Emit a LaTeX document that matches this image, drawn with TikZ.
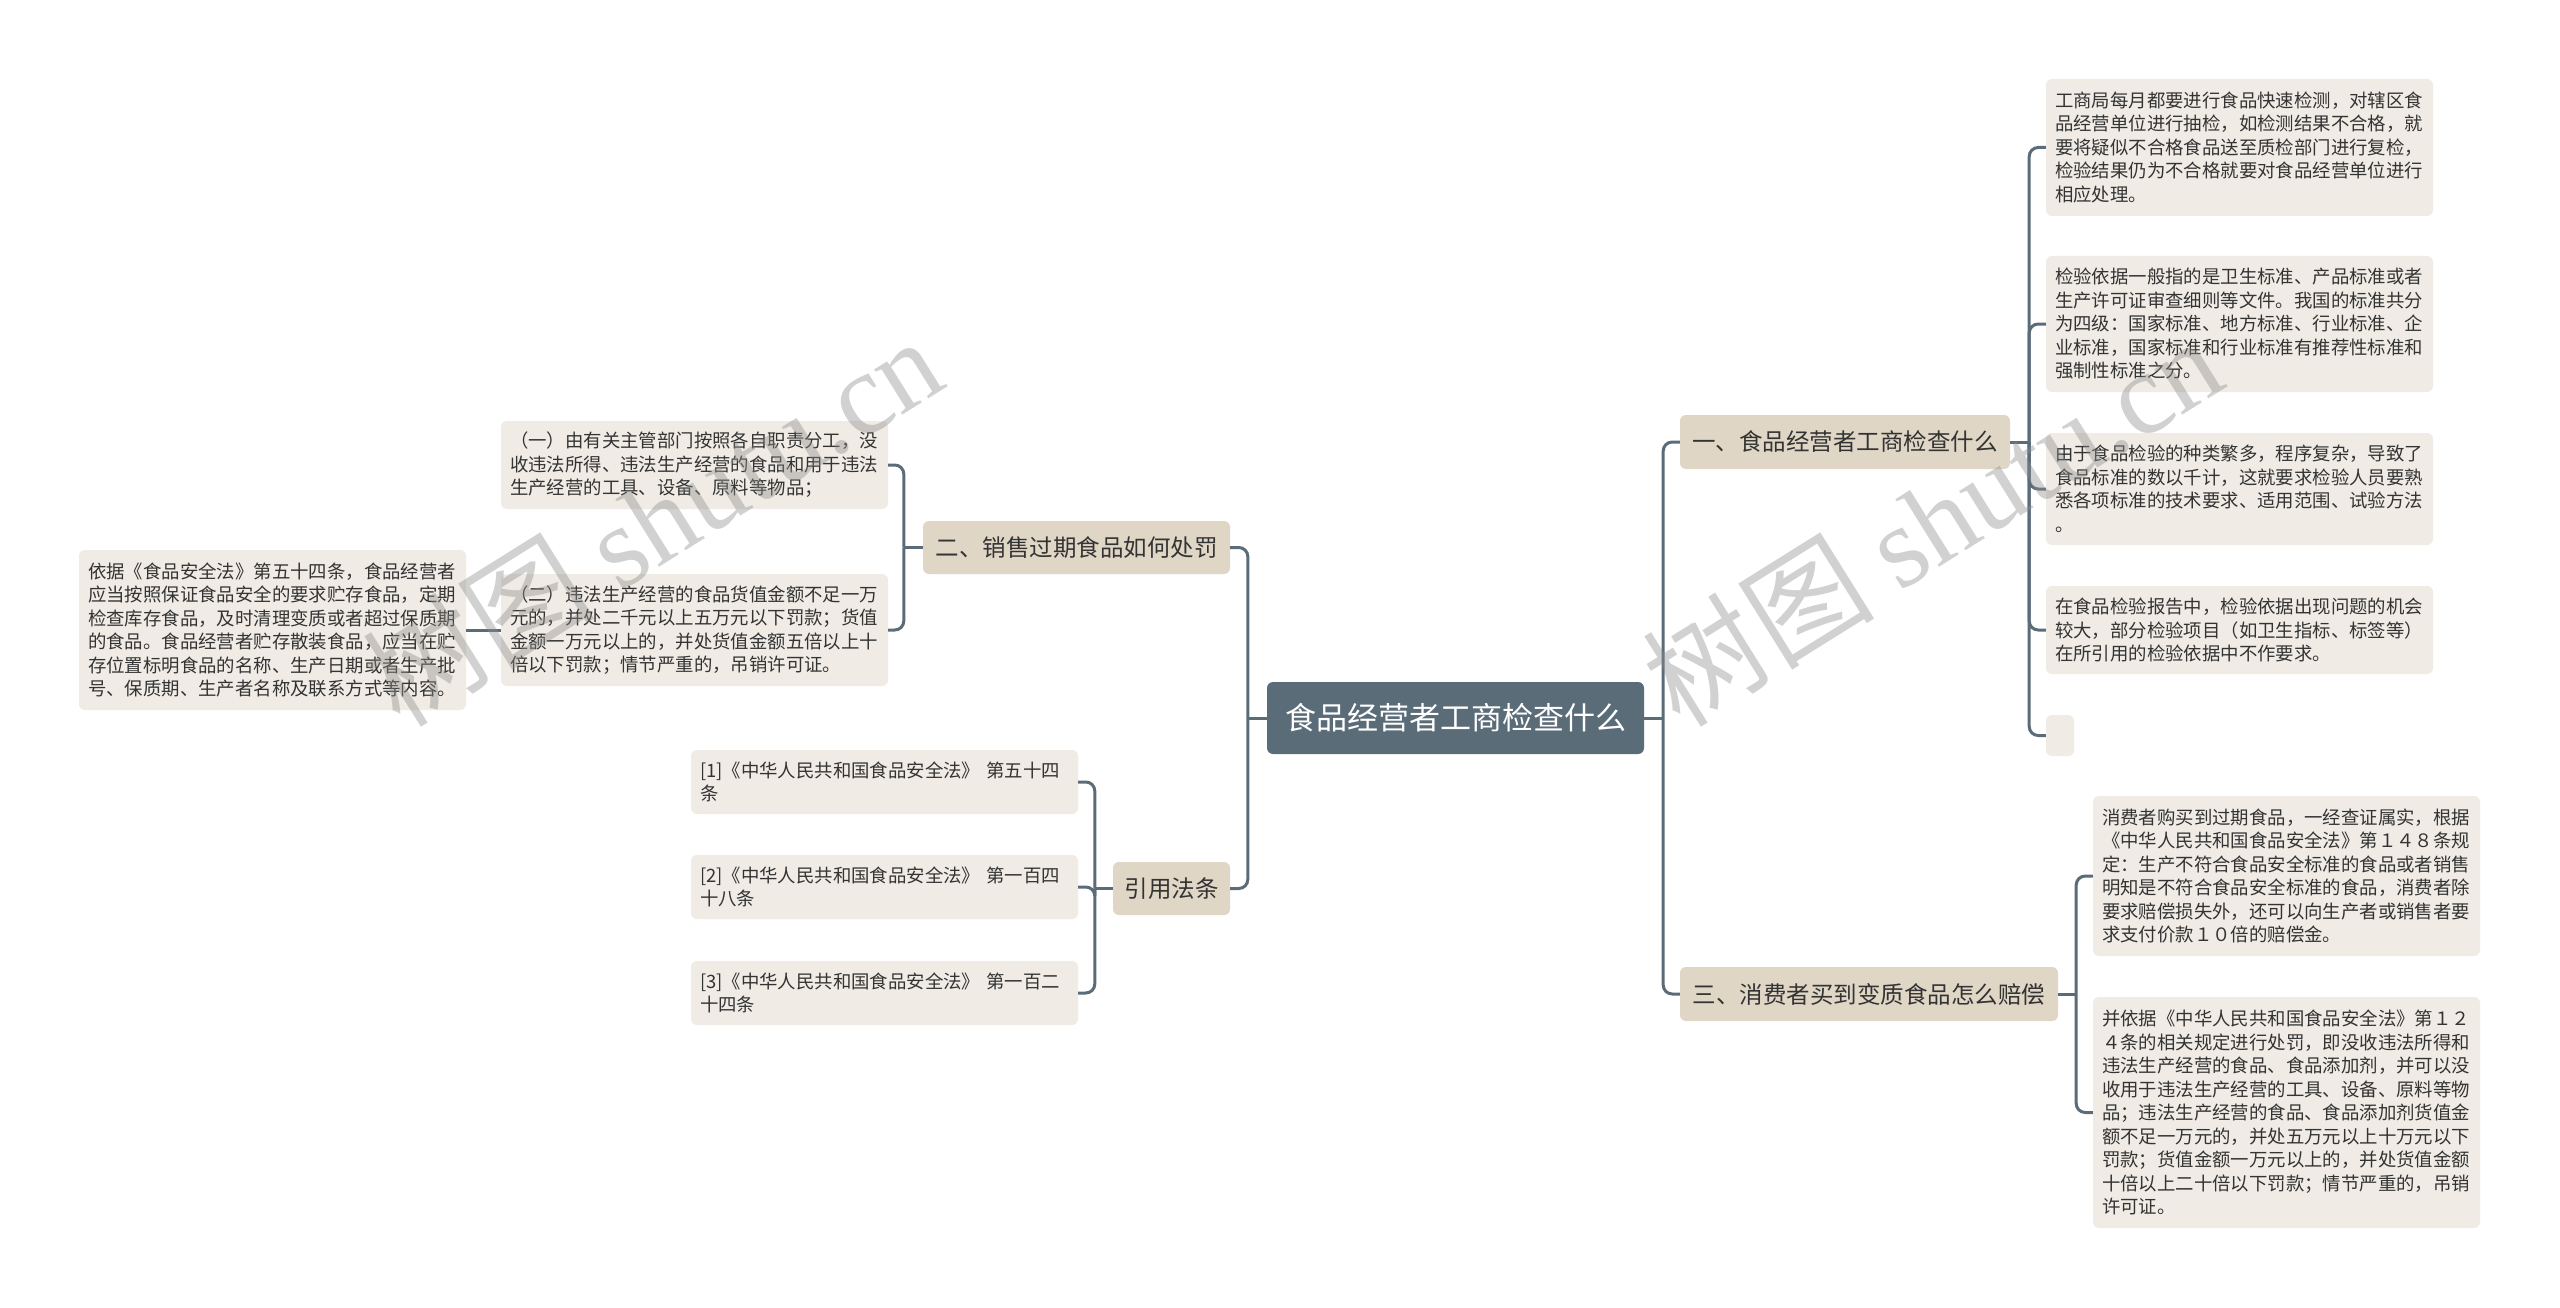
\documentclass[tikz,border=0pt]{standalone}
\usepackage{fontspec}
\setmainfont{Noto Sans CJK SC}
\newfontfamily\wmserif{Liberation Serif}
\usetikzlibrary{calc}
\definecolor{rootc}{HTML}{5B6C79}
\definecolor{lonec}{HTML}{E0D6C6}
\definecolor{leafc}{HTML}{F0ECE5}
\definecolor{linec}{HTML}{5B6C79}
\definecolor{txtc}{HTML}{333333}
\begin{document}
\begin{tikzpicture}[x=1pt,y=-1pt,
  rootbox/.style={fill=rootc, rounded corners=6pt, text=white, font=\fontsize{31}{36}\selectfont, inner sep=0pt, minimum width=377pt, minimum height=72pt},
  lonebox/.style={fill=lonec, rounded corners=6pt, text=txtc, font=\fontsize{23.5}{28}\selectfont, inner sep=0pt, minimum height=54pt},
  leafbox/.style={fill=leafc, rounded corners=6pt, text=txtc, font=\fontsize{18.4}{23.5}\selectfont, align=left, inner xsep=9pt, inner ysep=0pt, text width=369pt},
  emptybox/.style={fill=leafc, rounded corners=6pt, inner sep=0pt},
  conn/.style={draw=linec, line width=3pt, rounded corners=9pt},
  wmark/.style={rotate=32, text=black!45, opacity=0.4, font=\fontsize{116}{120}\selectfont}
]
\fill[white] (0,0) rectangle (2560,1308);
\useasboundingbox (0,0) rectangle (2560,1308);

% main nodes
\node[rootbox] (root) at (1455.5,718) {食品经营者工商检查什么};
\node[lonebox, minimum width=330pt] (n1) at (1845,442) {一、食品经营者工商检查什么};
\node[lonebox, minimum width=378pt] (n3) at (1869,994) {三、消费者买到变质食品怎么赔偿};
\node[lonebox, minimum width=307pt, minimum height=53pt] (n2) at (1076.5,547.5) {二、销售过期食品如何处罚};
\node[lonebox, minimum width=117pt, minimum height=53pt] (n4) at (1171.5,888.5) {引用法条};

% leaves of n1
\node[leafbox, minimum height=137pt] (a) at (2239.5,147.5) {工商局每月都要进行食品快速检测，对辖区食\\品经营单位进行抽检，如检测结果不合格，就\\要将疑似不合格食品送至质检部门进行复检，\\检验结果仍为不合格就要对食品经营单位进行\\相应处理。};
\node[leafbox, minimum height=136pt] (b) at (2239.5,324) {检验依据一般指的是卫生标准、产品标准或者\\生产许可证审查细则等文件。我国的标准共分\\为四级：国家标准、地方标准、行业标准、企\\业标准，国家标准和行业标准有推荐性标准和\\强制性标准之分。};
\node[leafbox, minimum height=112pt] (c) at (2239.5,489) {由于食品检验的种类繁多，程序复杂，导致了\\食品标准的数以千计，这就要求检验人员要熟\\悉各项标准的技术要求、适用范围、试验方法\\。};
\node[leafbox, minimum height=88pt] (d) at (2239.5,630) {在食品检验报告中，检验依据出现问题的机会\\较大，部分检验项目（如卫生指标、标签等）\\在所引用的检验依据中不作要求。};
\node[emptybox, minimum width=28pt, minimum height=41pt] (e) at (2060,735.5) {};

% leaves of n3
\node[leafbox, minimum height=160pt] (f) at (2286.5,876) {消费者购买到过期食品，一经查证属实，根据\\《中华人民共和国食品安全法》第１４８条规\\定：生产不符合食品安全标准的食品或者销售\\明知是不符合食品安全标准的食品，消费者除\\要求赔偿损失外，还可以向生产者或销售者要\\求支付价款１０倍的赔偿金。};
\node[leafbox, minimum height=231pt] (g) at (2286.5,1112.5) {并依据《中华人民共和国食品安全法》第１２\\４条的相关规定进行处罚，即没收违法所得和\\违法生产经营的食品、食品添加剂，并可以没\\收用于违法生产经营的工具、设备、原料等物\\品；违法生产经营的食品、食品添加剂货值金\\额不足一万元的，并处五万元以上十万元以下\\罚款；货值金额一万元以上的，并处货值金额\\十倍以上二十倍以下罚款；情节严重的，吊销\\许可证。};

% leaves of n2
\node[leafbox, minimum height=88pt] (h) at (694.5,465) {（一）由有关主管部门按照各自职责分工，没\\收违法所得、违法生产经营的食品和用于违法\\生产经营的工具、设备、原料等物品；};
\node[leafbox, minimum height=112pt] (i) at (694.5,630) {（二）违法生产经营的食品货值金额不足一万\\元的，并处二千元以上五万元以下罚款；货值\\金额一万元以上的，并处货值金额五倍以上十\\倍以下罚款；情节严重的，吊销许可证。};
\node[leafbox, minimum height=160pt] (j) at (272.5,630) {依据《食品安全法》第五十四条，食品经营者\\应当按照保证食品安全的要求贮存食品，定期\\检查库存食品，及时清理变质或者超过保质期\\的食品。食品经营者贮存散装食品，应当在贮\\存位置标明食品的名称、生产日期或者生产批\\号、保质期、生产者名称及联系方式等内容。};

% leaves of n4
\node[leafbox, minimum height=64pt] (r1) at (884.5,782) {[1]《中华人民共和国食品安全法》 第五十四\\条};
\node[leafbox, minimum height=64pt] (r2) at (884.5,887) {[2]《中华人民共和国食品安全法》 第一百四\\十八条};
\node[leafbox, minimum height=64pt] (r3) at (884.5,993) {[3]《中华人民共和国食品安全法》 第一百二\\十四条};

% spine coordinates
\coordinate (sr) at ($(root.east)+(19,0)$);
\coordinate (sl) at ($(root.west)+(-19,0)$);
\coordinate (s1) at ($(n1.east)+(19,0)$);
\coordinate (s3) at ($(n3.east)+(18,0)$);
\coordinate (s2) at ($(n2.west)+(-19,0)$);
\coordinate (s4) at ($(n4.west)+(-18,0)$);

% connectors
\draw[conn] (root.east) -- (sr);
\draw[conn] (sr) |- (n1.west);
\draw[conn] (sr) |- (n3.west);
\draw[conn] (root.west) -- (sl);
\draw[conn] (sl) |- (n2.east);
\draw[conn] (sl) |- (n4.east);

\draw[conn] (n1.east) -- (s1);
\draw[conn] (s1) |- (a.west);
\draw[conn] (s1) |- (b.west);
\draw[conn] (s1) |- (c.west);
\draw[conn] (s1) |- (d.west);
\draw[conn] (s1) |- (e.west);

\draw[conn] (n3.east) -- (s3);
\draw[conn] (s3) |- (f.west);
\draw[conn] (s3) |- (g.west);

\draw[conn] (n2.west) -- (s2);
\draw[conn] (s2) |- (h.east);
\draw[conn] (s2) |- (i.east);
\draw[conn] (i.west) -- (j.east);

\draw[conn] (n4.west) -- (s4);
\draw[conn] (s4) |- (r1.east);
\draw[conn] (s4) |- (r2.east);
\draw[conn] (s4) |- (r3.east);

% watermarks
\node[wmark] (wm1) at (652,520) {树图 {\wmserif shutu.cn}};
\node[wmark] (wm2) at (1932,520) {树图 {\wmserif shutu.cn}};
\end{tikzpicture}
\end{document}
